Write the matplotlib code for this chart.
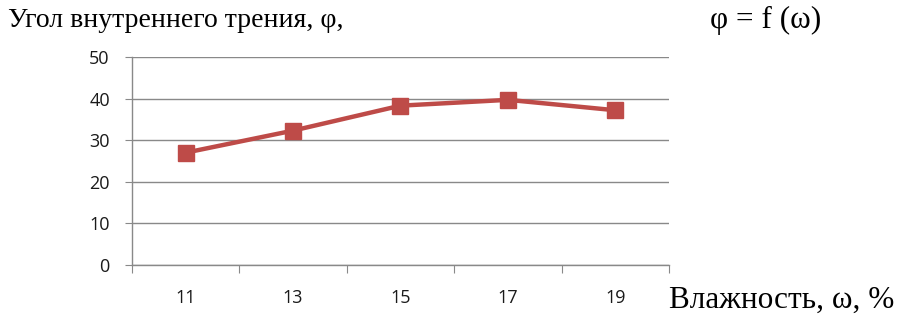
import matplotlib
matplotlib.use("Agg")
import matplotlib.pyplot as plt

# data
moisture = ["11", "13", "15", "17", "19"]
friction_angle = [27.0, 32.3, 38.3, 39.7, 37.2]
y_ticks = [0, 10, 20, 30, 40, 50]

line_color = "#BE4B48"
grid_color = "#898989"

fig = plt.figure(figsize=(9.01, 3.18), dpi=100)
ax = fig.add_axes([0.1465, 0.1667, 0.5960, 0.6541])

x = range(len(moisture))
ax.plot(x, friction_angle, color=line_color, linewidth=3.2,
        marker="s", markersize=11, markerfacecolor=line_color,
        markeredgecolor=line_color, zorder=3)

ax.set_xlim(-0.5, len(moisture) - 0.5)
ax.set_ylim(0, 50)
ax.set_yticks(y_ticks)
# ticks sit between categories, labels in the middle
ax.set_xticks([i + 0.5 for i in range(-1, len(moisture))])
ax.set_xticklabels([])
ax.set_xticks(list(x), minor=True)
ax.set_xticklabels(moisture, minor=True)

ax.grid(axis="y", color=grid_color, linewidth=1.0)
ax.set_axisbelow(True)
for side in ["top", "right"]:
    ax.spines[side].set_visible(False)
for side in ["left", "bottom"]:
    ax.spines[side].set_color(grid_color)
    ax.spines[side].set_linewidth(1.0)

ax.tick_params(axis="y", which="major", direction="out", length=5,
               color=grid_color, labelsize=13, pad=11, labelcolor="#1a1a1a")
ax.tick_params(axis="x", which="major", direction="out", length=6,
               color=grid_color)
ax.tick_params(axis="x", which="minor", length=0, labelsize=13, pad=17,
               labelcolor="#1a1a1a")
for lbl in ax.get_yticklabels() + ax.get_xticklabels(minor=True):
    lbl.set_fontfamily("Open Sans")

serif = "Liberation Serif"
fig.text(0.009, 0.935, "Угол внутреннего трения, φ,", fontsize=20,
         family=serif, ha="left", va="center")
fig.text(0.788, 0.935, "φ = f (ω)", fontsize=22.5,
         family=serif, ha="left", va="center")
fig.text(0.742, 0.055, "Влажность, ω, %", fontsize=22.5,
         family=serif, ha="left", va="center")

fig.savefig("out.png", dpi=100)
